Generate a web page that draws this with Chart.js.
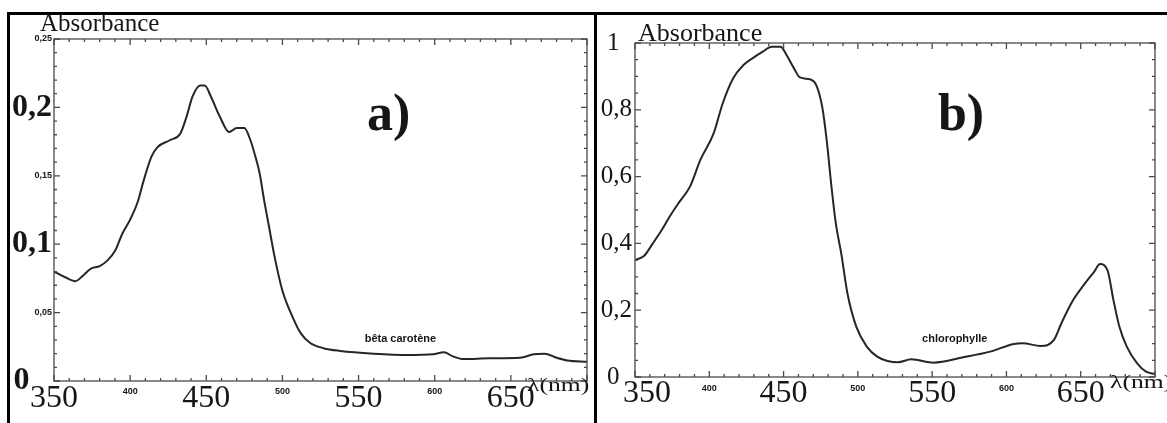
<!DOCTYPE html>
<html>
<head>
<meta charset="utf-8">
<script src="https://cdn.jsdelivr.net/npm/chart.js@4.4.1/dist/chart.umd.min.js"></script>
<style>
  html, body { margin: 0; padding: 0; background: #fff; }
  body { width: 1167px; height: 423px; position: relative; overflow: hidden; }
  .rule { position: absolute; background: #000; }
  .panel { position: absolute; top: 0; height: 423px; }
</style>
</head>
<body>
<div class="rule" style="left:7px;top:12px;width:1160px;height:3px;"></div>
<div class="rule" style="left:7px;top:12px;width:3px;height:411px;"></div>
<div class="rule" style="left:594px;top:12px;width:3px;height:411px;"></div>
<div class="panel" style="left:0;width:594px;"><canvas id="chartA"></canvas></div>
<div class="panel" style="left:597px;width:570px;"><canvas id="chartB"></canvas></div>
<script>
// ---------- data: panel a) bêta carotène ----------
const wavelengthsA = [350, 357, 364, 369, 374, 380, 385, 390, 395, 400,
  405, 409, 414, 418, 426, 433, 437, 441, 446, 449,
  453, 459, 465, 470, 475, 479, 482, 485, 488, 491,
  495, 500, 507, 512, 518, 527, 538, 560, 582, 599,
  606, 612, 619, 636, 656, 665, 672, 680, 687, 700];
const absorbanceA = [0.080, 0.076, 0.073, 0.077, 0.082, 0.084, 0.088, 0.095, 0.108, 0.118,
  0.131, 0.147, 0.164, 0.171, 0.176, 0.181, 0.193, 0.208, 0.216, 0.216,
  0.208, 0.193, 0.182, 0.185, 0.185, 0.176, 0.165, 0.152, 0.132, 0.114,
  0.090, 0.066, 0.046, 0.035, 0.028, 0.024, 0.022, 0.020, 0.019, 0.0195,
  0.021, 0.018, 0.016, 0.0166, 0.017, 0.0195, 0.020, 0.017, 0.015, 0.014];

// ---------- data: panel b) chlorophylle ----------
const wavelengthsB = [350, 356, 362, 368, 374, 380, 387, 394, 403, 409,
  416, 423, 430, 436, 442, 448, 452, 457, 461, 468,
  472, 476, 479, 482, 485, 489, 493, 499, 506, 513,
  520, 527, 536, 551, 571, 589, 605, 611, 623, 632,
  637, 645, 652, 659, 663, 668, 672, 676, 681, 688,
  694, 700];
const absorbanceB = [0.350, 0.362, 0.400, 0.440, 0.485, 0.525, 0.570, 0.650, 0.730, 0.819,
  0.894, 0.934, 0.957, 0.974, 0.989, 0.989, 0.964, 0.924, 0.897, 0.891,
  0.874, 0.809, 0.710, 0.580, 0.465, 0.365, 0.250, 0.150, 0.091, 0.061,
  0.048, 0.044, 0.053, 0.043, 0.059, 0.076, 0.099, 0.101, 0.093, 0.111,
  0.161, 0.231, 0.275, 0.315, 0.338, 0.320, 0.231, 0.151, 0.091, 0.041,
  0.016, 0.009];

// ---------- tick labels (spaces reproduce the original's label offsets) ----------
const xTickLabelsA = ['350', '400', '450', '500', '550', '600', '650', ''];
const xTickLabelsB = ['   350', '400', '450', '500', '550', '600', '650', ''];
const yTickLabelsA = ['0  \u2009', '0,05', '0,1', '0,15', '0,2', '0,25'];
const yTickLabelsB = ['0  ', '0,2', '0,4', '0,6', '0,8', '1  '];

const SERIF = "'Liberation Serif', 'DejaVu Serif', serif";
const SANS = "'Liberation Sans', Arial, sans-serif";
const INK = '#161616';

// frame + inward ticks on all four sides, positions from the chart's scales
const frameTicks = {
  id: 'frameTicks',
  afterDatasetsDraw(chart, args, o) {
    const { ctx, chartArea: a, scales: { x, y } } = chart;
    ctx.save();
    ctx.strokeStyle = o.color;
    ctx.lineWidth = o.width;
    ctx.strokeRect(a.left, a.top, a.right - a.left, a.bottom - a.top);
    ctx.beginPath();
    const isMajor = (v, step) => Math.abs(v / step - Math.round(v / step)) < 1e-6;
    const nx = Math.round((x.max - x.min) / o.xMinor);
    for (let i = 0; i <= nx; i++) {
      const v = x.min + i * o.xMinor;
      const p = x.getPixelForValue(v);
      const len = isMajor(v, o.xMajor) ? o.majorLen : o.minorLen;
      ctx.moveTo(p, a.bottom); ctx.lineTo(p, a.bottom - len);
      ctx.moveTo(p, a.top); ctx.lineTo(p, a.top + len);
    }
    const ny = Math.round((y.max - y.min) / o.yMinor);
    for (let i = 0; i <= ny; i++) {
      const v = y.min + i * o.yMinor;
      const p = y.getPixelForValue(v);
      const len = isMajor(v, o.yMajor) ? o.majorLen : o.minorLen;
      ctx.moveTo(a.left, p); ctx.lineTo(a.left + len, p);
      ctx.moveTo(a.right, p); ctx.lineTo(a.right - len, p);
    }
    ctx.stroke();
    ctx.restore();
  }
};

// annotation texts: either anchored on data values or offset from the plot frame
const annotations = {
  id: 'annotations',
  afterDraw(chart, args, o) {
    const { ctx, chartArea: a, scales: { x, y } } = chart;
    for (const it of o.items) {
      let px, py;
      if (it.data) {
        px = x.getPixelForValue(it.data[0]);
        py = y.getPixelForValue(it.data[1]);
      } else {
        px = it.fromRight !== undefined ? a.right - it.fromRight : a.left + it.fromLeft;
        py = it.fromBottom !== undefined ? a.bottom + it.fromBottom : a.top + it.fromTop;
      }
      ctx.save();
      ctx.fillStyle = INK;
      ctx.textAlign = 'left';
      ctx.textBaseline = 'alphabetic';
      ctx.font = it.font;
      ctx.translate(px, py);
      ctx.scale(it.sx || 1, 1);
      ctx.fillText(it.text, 0, 0);
      ctx.restore();
    }
  }
};

function makeChart(id, cfg) {
  const points = cfg.xs.map((w, i) => ({ x: w, y: cfg.ys[i] }));
  return new Chart(document.getElementById(id), {
    type: 'line',
    data: { datasets: [{
      data: points,
      borderColor: '#262626',
      borderWidth: 2,
      pointRadius: 0,
      cubicInterpolationMode: 'monotone',
      fill: false
    }] },
    options: {
      responsive: true,
      maintainAspectRatio: false,
      animation: false,
      events: [],
      layout: { padding: cfg.padding },
      plugins: {
        legend: { display: false },
        tooltip: { enabled: false },
        title: { display: false },
        frameTicks: { color: '#4a4a4a', width: 1.3, xMinor: 10, xMajor: 50,
          yMinor: cfg.yMinor, yMajor: cfg.yMajorTick, majorLen: 6, minorLen: 3 },
        annotations: { items: cfg.notes }
      },
      scales: {
        x: {
          type: 'linear', position: 'bottom', min: 350, max: 700,
          grid: { display: false, drawTicks: false },
          border: { display: false },
          afterFit: s => { s.height = cfg.xAxisHeight; },
          ticks: {
            stepSize: 50, autoSkip: false, maxRotation: 0, padding: 0,
            color: INK,
            callback: (v, i) => cfg.xLabels[i],
            font: ctx => (ctx.index % 2 === 0)
              ? { family: SERIF, size: 32, lineHeight: cfg.bigLH }
              : { family: SANS, size: 9, weight: 'bold', lineHeight: cfg.smallLH }
          }
        },
        y: {
          type: 'linear', position: 'left', min: 0, max: cfg.yMax,
          grid: { display: false, drawTicks: false },
          border: { display: false },
          afterFit: s => { s.width = cfg.yAxisWidth; },
          ticks: {
            stepSize: cfg.yStep, autoSkip: false, padding: cfg.yPad,
            color: INK,
            callback: (v, i) => cfg.yLabels[i],
            font: cfg.yFont
          }
        }
      }
    },
    plugins: [frameTicks, annotations]
  });
}

makeChart('chartA', {
  xs: wavelengthsA, ys: absorbanceA, xLabels: xTickLabelsA, yLabels: yTickLabelsA,
  yMax: 0.25, yStep: 0.05, yMinor: 0.01, yMajorTick: 0.05,
  padding: { left: 8, right: 7, top: 39, bottom: 0 },
  yAxisWidth: 46, xAxisHeight: 42, yPad: 2,
  bigLH: 1.09, smallLH: 2.33,
  yFont: ctx => (ctx.index % 2 === 0)
    ? { family: SERIF, size: 32, weight: 'bold', lineHeight: 1.1 }
    : { family: SANS, size: 9, weight: 'bold', lineHeight: 1.1 },
  notes: [
    { text: 'Absorbance', font: `25px ${SERIF}`, fromLeft: -14, fromTop: -8 },
    { text: 'a)', font: `bold 52px ${SERIF}`, data: [555.5, 0.1835] },
    { text: 'bêta carotène', font: `bold 11px ${SANS}`, data: [554, 0.0285] },
    { text: 'λ(nm)', font: `19px ${SERIF}`, sx: 1.35, fromRight: 60, fromBottom: 10 }
  ]
});

makeChart('chartB', {
  xs: wavelengthsB, ys: absorbanceB, xLabels: xTickLabelsB, yLabels: yTickLabelsB,
  yMax: 1, yStep: 0.2, yMinor: 0.05, yMajorTick: 0.2,
  padding: { left: 0, right: 12, top: 43, bottom: 0 },
  yAxisWidth: 38, xAxisHeight: 46, yPad: 3,
  bigLH: 1.06, smallLH: 2.55,
  yFont: { family: SERIF, size: 25, lineHeight: 1.1 },
  notes: [
    { text: 'Absorbance', font: `26px ${SERIF}`, fromLeft: 3, fromTop: -2 },
    { text: 'b)', font: `bold 52px ${SERIF}`, data: [553.9, 0.7395] },
    { text: 'chlorophylle', font: `bold 11px ${SANS}`, data: [543.2, 0.105] },
    { text: 'λ(nm)', font: `19px ${SERIF}`, sx: 1.35, fromRight: 45, fromBottom: 11 }
  ]
});
</script>
</body>
</html>
